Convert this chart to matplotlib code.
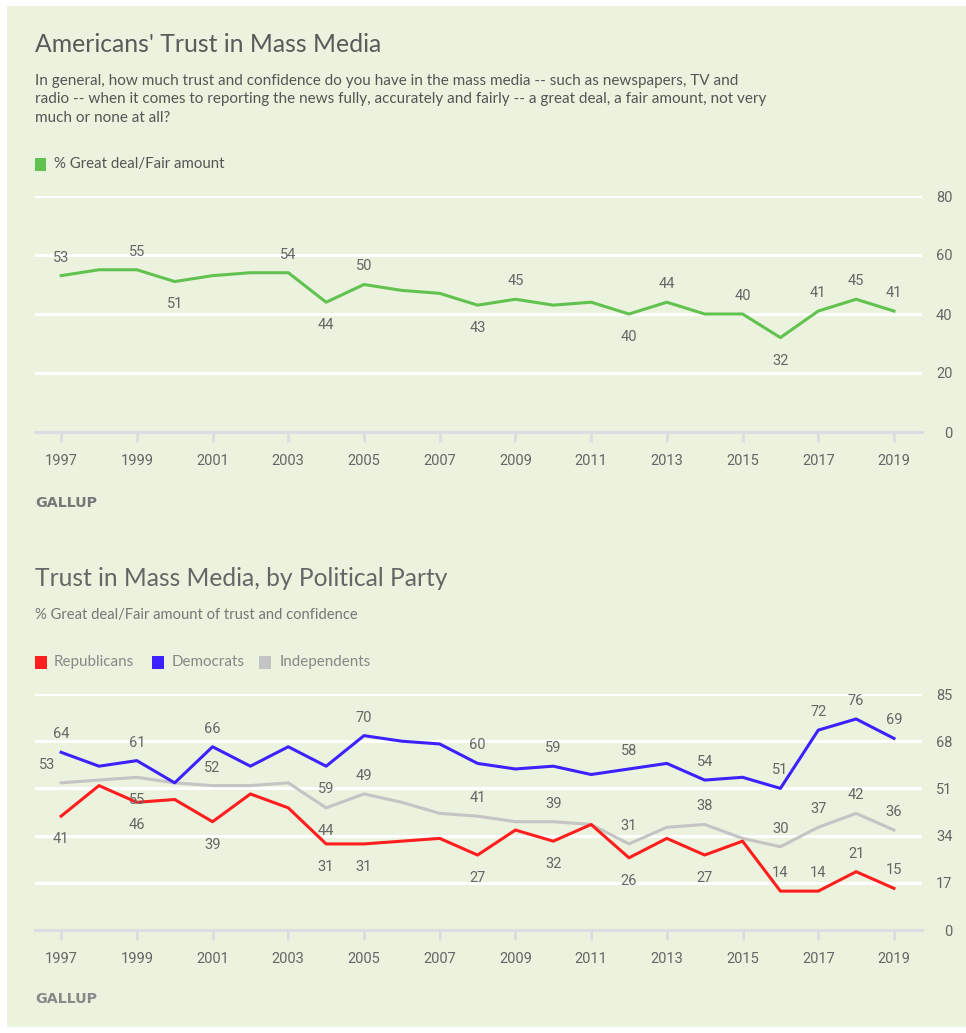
import matplotlib
matplotlib.use("Agg")
import matplotlib.pyplot as plt
from matplotlib.transforms import offset_copy

# ---------------- data ----------------
years = list(range(1997, 2020))
total = [53, 55, 55, 51, 53, 54, 54, 44, 50, 48, 47, 43, 45, 43, 44, 40, 44, 40, 40, 32, 41, 45, 41]
total_labels = {1997: 'a', 1999: 'a', 2000: 'b', 2003: 'a', 2004: 'b', 2005: 'a', 2008: 'b',
                2009: 'a', 2012: 'b', 2013: 'a', 2015: 'a', 2016: 'b', 2017: 'a', 2018: 'a', 2019: 'a'}

republicans = [41, 52, 46, 47, 39, 49, 44, 31, 31, 32, 33, 27, 36, 32, 38, 26, 33, 27, 32, 14, 14, 21, 15]
democrats = [64, 59, 61, 53, 66, 59, 66, 59, 70, 68, 67, 60, 58, 59, 56, 58, 60, 54, 55, 51, 72, 76, 69]
independents = [53, 54, 55, 53, 52, 52, 53, 44, 49, 46, 42, 41, 39, 39, 38, 31, 37, 38, 33, 30, 37, 42, 36]

rep_labels = {1997: 'b', 1999: 'b', 2001: 'b', 2004: 'b', 2005: 'b', 2008: 'b', 2010: 'b',
              2012: 'b', 2014: 'b', 2016: 'a', 2017: 'a', 2018: 'a', 2019: 'a'}
dem_labels = {1997: 'a', 1999: 'a', 2001: 'a', 2004: 'b', 2005: 'a', 2008: 'a', 2010: 'a',
              2012: 'a', 2014: 'a', 2016: 'a', 2017: 'a', 2018: 'a', 2019: 'a'}
ind_labels = {1997: 'a', 1999: 'b', 2001: 'a', 2004: 'b', 2005: 'a', 2008: 'a', 2010: 'a',
              2012: 'a', 2014: 'a', 2016: 'a', 2017: 'a', 2018: 'a', 2019: 'a'}

top_yticks = [0, 20, 40, 60, 80]
bottom_yticks = [0, 17, 34, 51, 68, 85]
xtick_years = list(range(1997, 2020, 2))

top_title = "Americans' Trust in Mass Media"
top_subtitle = ("In general, how much trust and confidence do you have in the mass media -- such as newspapers, TV and\n"
                "radio -- when it comes to reporting the news fully, accurately and fairly -- a great deal, a fair amount, not very\n"
                "much or none at all?")
top_legend = "% Great deal/Fair amount"
bottom_title = "Trust in Mass Media, by Political Party"
bottom_subtitle = "% Great deal/Fair amount of trust and confidence"
bottom_legend = ["Republicans", "Democrats", "Independents"]

# ---------------- style ----------------
W, H = 966, 1033
BG = "#EBF2DD"
GREEN = "#62C24F"
RED = "#FF1E1E"
BLUE = "#3D22FF"
GREY = "#C4C4C4"
TXT = "#666666"
AXIS = "#DCDCE2"
SANS = ["Lato", "DejaVu Sans"]
NUM = ["Roboto", "DejaVu Sans"]

fig = plt.figure(figsize=(W / 100, H / 100), dpi=100)
fig.patch.set_facecolor(BG)
# white margins of the card
fig.patches.append(plt.Rectangle((0, 1 - 6 / H), 1, 6 / H, transform=fig.transFigure,
                                 facecolor="white", edgecolor="none", zorder=-5))
fig.patches.append(plt.Rectangle((0, 0), 7 / W, 1, transform=fig.transFigure,
                                 facecolor="white", edgecolor="none", zorder=-5))
fig.patches.append(plt.Rectangle((0, 0), 1, 6 / H, transform=fig.transFigure,
                                 facecolor="white", edgecolor="none", zorder=-5))


def P(x, y):
    return x / W, 1 - y / H


def make_axes(ytop, ybot, ymax, yticks):
    ax = fig.add_axes([35 / W, 1 - ybot / H, (922 - 35) / W, (ybot - ytop) / H])
    ax.set_facecolor("none")
    ax.set_xlim(1996.31, 2019.74)
    ax.set_ylim(0, ymax)
    for s in ["top", "left", "right"]:
        ax.spines[s].set_visible(False)
    ax.spines["bottom"].set_color(AXIS)
    ax.spines["bottom"].set_linewidth(2.2)
    ax.set_xticks(xtick_years)
    ax.set_xticklabels([str(y) for y in xtick_years], fontsize=10.5, color=TXT, family=NUM)
    ax.tick_params(axis="x", length=7.5, width=2, color=AXIS, pad=8.5)
    ax.yaxis.tick_right()
    ax.set_yticks(yticks)
    ax.set_yticklabels([str(v) for v in yticks], fontsize=10.5, color=TXT, family=NUM)
    ax.tick_params(axis="y", length=0, pad=22)
    for lab in ax.get_yticklabels():
        lab.set_horizontalalignment("right")
    for v in yticks[1:]:
        ax.axhline(v, color="white", lw=2.2, zorder=1)
    return ax


def add_labels(ax, values, spec, dx_map=None):
    for yr, pos in spec.items():
        v = values[years.index(yr)]
        dy = 13 if pos == 'a' else -16.5
        dx = 0
        if dx_map and yr in dx_map:
            dx = dx_map[yr]
        tr = offset_copy(ax.transData, fig=fig, x=dx, y=dy, units="points")
        ax.text(yr, v, str(v), transform=tr, ha="center", va="center",
                fontsize=10.5, color=TXT, family=NUM, zorder=5)


# ---------------- top chart ----------------
fig.text(*P(35, 52), top_title, fontsize=17.8, color="#5a5a5a", family=SANS, va="baseline")
fig.text(*P(35, 74), top_subtitle, fontsize=10.95, color="#555555", family=SANS, va="top",
         linespacing=1.4)
fig.patches.append(plt.Rectangle(P(35, 171), 11 / W, 13 / H, transform=fig.transFigure,
                                 facecolor=GREEN, edgecolor="none"))
fig.text(*P(54, 164), top_legend, fontsize=10.8, color="#555555", family=SANS, va="center")

ax1 = make_axes(196, 432, 80, top_yticks)
ax1.plot(years, total, color=GREEN, lw=2.2, zorder=3)
add_labels(ax1, total, total_labels)
fig.text(*P(35, 503), "GALLUP", fontsize=10.3, color="#777777", family="DejaVu Sans", weight="bold",
         va="center")

# ---------------- bottom chart ----------------
fig.text(*P(35, 586), bottom_title, fontsize=17.7, color="#666666", family=SANS, va="baseline")
fig.text(*P(35, 615), bottom_subtitle, fontsize=10.6, color="#777777", family=SANS, va="center")
leg_x = [(35, 54), (152, 172), (259, 280)]
for (sx, tx), col, name in zip(leg_x, [RED, BLUE, GREY], bottom_legend):
    fig.patches.append(plt.Rectangle(P(sx, 669), 12 / W, 13 / H, transform=fig.transFigure,
                                     facecolor=col, edgecolor="none"))
    fig.text(*P(tx, 662), name, fontsize=10.9, color="#888888", family=SANS, va="center")

ax2 = make_axes(694, 930, 85, bottom_yticks)
ax2.plot(years, independents, color=GREY, lw=2.2, zorder=3)
ax2.plot(years, republicans, color=RED, lw=2.2, zorder=3)
ax2.plot(years, democrats, color=BLUE, lw=2.2, zorder=3)
add_labels(ax2, republicans, rep_labels)
add_labels(ax2, democrats, dem_labels)
add_labels(ax2, independents, ind_labels, dx_map={1997: -10})
fig.text(*P(35, 999), "GALLUP", fontsize=10.3, color="#888888", family="DejaVu Sans", weight="bold",
         va="center")

fig.savefig("out.png", dpi=100, facecolor=fig.get_facecolor())
